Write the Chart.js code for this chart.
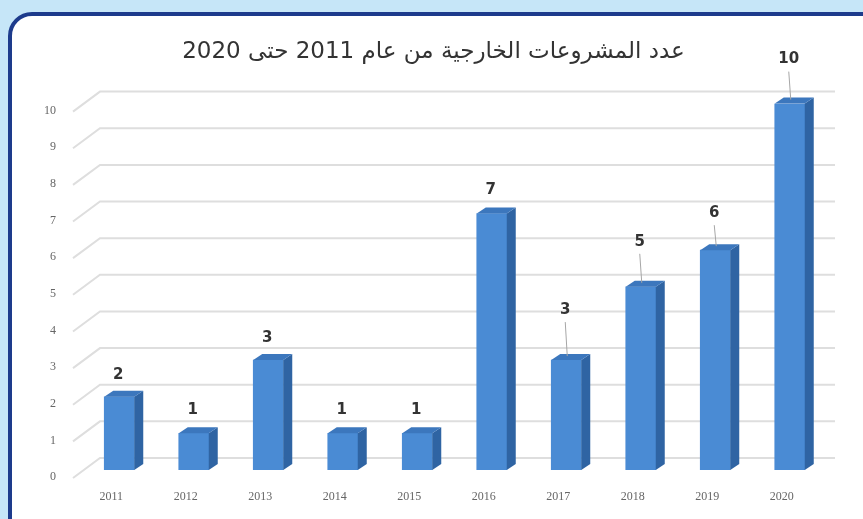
<!DOCTYPE html>
<html>
<head>
<meta charset="utf-8">
<script src="https://cdn.jsdelivr.net/npm/chart.js@4.4.1/dist/chart.umd.min.js"></script>
<style>
    html, body { margin: 0; padding: 0; }
    body { width: 863px; height: 519px; background: #c6e6f8; position: relative; overflow: hidden; }
    .card {
        position: absolute; left: 8px; top: 12px; width: 900px; height: 560px;
        background: #ffffff; border: 4px solid #1d3b8c; border-radius: 24px;
        box-sizing: border-box;
    }
    #wrap { position: absolute; left: 0; top: 0; width: 863px; height: 519px; }
</style>
</head>
<body>
<div class="card"></div>
<div id="wrap"><canvas id="projectsChart"></canvas></div>
<script>
// Number of external projects per year
const years = ['2011', '2012', '2013', '2014', '2015', '2016', '2017', '2018', '2019', '2020'];
const projectCounts = [2, 1, 3, 1, 1, 7, 3, 5, 6, 10];
const yTicks = [0, 1, 2, 3, 4, 5, 6, 7, 8, 9, 10];
const chartTitle = 'عدد المشروعات الخارجية من عام 2011 حتى 2020';

// how far each value label sits above its bar (the tall ones get a leader line)
const labelLift = [22, 23, 22, 23, 23, 23, 50, 45, 37, 44];

const DEPTH_X = 9;
const DEPTH_Y = 6;

/**
 * Fake 3D: back-wall gridlines, side/top faces of bars, value labels
 */
const bars3d = {
    id: 'bars3d',
    beforeDatasetsDraw(chart) {
        const { ctx, chartArea, scales } = chart;
        ctx.save();
        ctx.strokeStyle = '#dedede';
        ctx.lineWidth = 2;
        yTicks.forEach(v => {
            const y = scales.y.getPixelForValue(v);
            ctx.beginPath();
            ctx.moveTo(chartArea.left - 9, y + 8);
            ctx.lineTo(chartArea.left + 18, y - 12);
            ctx.lineTo(chartArea.right + 8, y - 12);
            ctx.stroke();
        });
        ctx.restore();
    },
    afterDatasetsDraw(chart) {
        const { ctx } = chart;
        const meta = chart.getDatasetMeta(0);
        ctx.save();
        meta.data.forEach((bar, i) => {
            const half = bar.width / 2;
            const left = bar.x - half;
            const right = bar.x + half;
            const top = bar.y;
            const base = bar.base;

            // side face
            ctx.fillStyle = '#2f64a3';
            ctx.beginPath();
            ctx.moveTo(right, top);
            ctx.lineTo(right + DEPTH_X, top - DEPTH_Y);
            ctx.lineTo(right + DEPTH_X, base - DEPTH_Y);
            ctx.lineTo(right, base);
            ctx.closePath();
            ctx.fill();

            // top face
            ctx.fillStyle = '#3c77bd';
            ctx.beginPath();
            ctx.moveTo(left, top);
            ctx.lineTo(left + DEPTH_X, top - DEPTH_Y);
            ctx.lineTo(right + DEPTH_X, top - DEPTH_Y);
            ctx.lineTo(right, top);
            ctx.closePath();
            ctx.fill();

            // value label
            const lift = labelLift[i];
            const ly = top - lift;
            const lx = bar.x - 1;
            if (lift > 30) {
                ctx.strokeStyle = '#a6a6a6';
                ctx.lineWidth = 1;
                ctx.beginPath();
                ctx.moveTo(lx + 2, top - 4);
                ctx.lineTo(lx, ly + 12);
                ctx.stroke();
            }
            ctx.fillStyle = '#333333';
            ctx.font = 'bold 15px "DejaVu Sans"';
            ctx.textAlign = 'center';
            ctx.textBaseline = 'middle';
            ctx.fillText(String(projectCounts[i]), lx, ly);
        });
        ctx.restore();
    }
};

const ctx = document.getElementById('projectsChart');

new Chart(ctx, {
    type: 'bar',
    data: {
        labels: years,
        datasets: [{
            data: projectCounts,
            backgroundColor: '#4a8bd4',
            borderWidth: 0,
            barThickness: 30
        }]
    },
    options: {
        responsive: true,
        maintainAspectRatio: false,
        animation: false,
        // left padding pushes the title centre right, like the original
        layout: { padding: { left: 40, right: 36, top: 0, bottom: 0 } },
        plugins: {
            legend: { display: false },
            tooltip: { enabled: false },
            title: {
                display: true,
                text: chartTitle,
                color: '#333333',
                font: { family: 'DejaVu Sans', size: 23, weight: 'normal', lineHeight: 1.2 },
                padding: { top: 38, bottom: 38 }
            }
        },
        scales: {
            x: {
                grid: { display: false, drawTicks: false },
                border: { display: false },
                ticks: {
                    color: '#666666',
                    font: { family: 'Liberation Serif', size: 12 },
                    padding: 20,
                    labelOffset: -8
                },
                afterFit: s => { s.height = 49; }
            },
            y: {
                min: 0,
                max: 10,
                grid: { display: false, drawTicks: false },
                border: { display: false },
                ticks: {
                    stepSize: 1,
                    color: '#666666',
                    font: { family: 'Liberation Serif', size: 12 },
                    padding: 26,
                    labelOffset: 7
                },
                afterFit: s => { s.width = 42; }
            }
        }
    },
    plugins: [bars3d]
});
</script>
</body>
</html>
